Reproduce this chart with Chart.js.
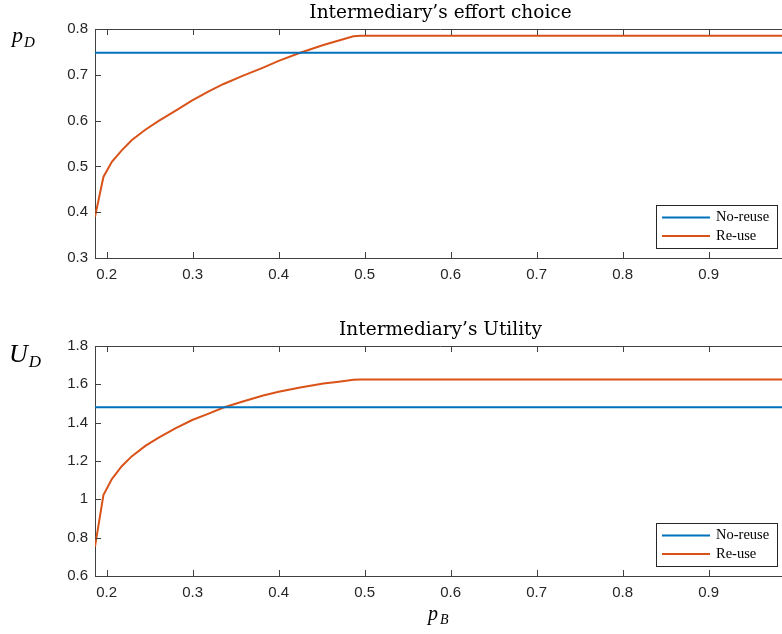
<!DOCTYPE html>
<html>
<head>
<meta charset="utf-8">
<script src="https://cdn.jsdelivr.net/npm/chart.js@4.4.1/dist/chart.umd.min.js"></script>
<style>
  html, body { margin: 0; padding: 0; background: #fff; overflow: hidden; }
  #wrap { position: relative; width: 782px; height: 634px; overflow: hidden; }
  canvas { position: absolute; left: 0; }
</style>
</head>
<body>
<div id="wrap">
  <canvas id="chartTop" width="790" height="317" style="top:0"></canvas>
  <canvas id="chartBottom" width="790" height="317" style="top:317px"></canvas>
</div>
<script>
// values
var pB = [0.1864, 0.1962, 0.206, 0.2175, 0.229, 0.2449, 0.2605, 0.2798, 0.2995, 0.3186,
          0.336, 0.3573, 0.382, 0.4, 0.425, 0.452, 0.47, 0.487, 0.495, 0.99];
var effortReuse = [0.39, 0.477, 0.510, 0.535, 0.557, 0.58, 0.5995, 0.621, 0.644, 0.664,
                   0.680, 0.697, 0.7155, 0.7305, 0.748, 0.765, 0.775, 0.784, 0.785, 0.785];
var utilityReuse = [0.753, 1.022, 1.106, 1.173, 1.224, 1.279, 1.322, 1.370, 1.414, 1.447,
                    1.479, 1.509, 1.542, 1.561, 1.584, 1.604, 1.614, 1.624, 1.625, 1.625];
var effortNoReuse = 0.748;
var utilityNoReuse = 1.48;
var seriesNames = ['No-reuse', 'Re-use'];

var blue = '#0072BD', orange = '#D95319';
var axisColor = '#404040', textColor = '#262626';
var tickLen = 6;

function pts(xs, ys) {
  return xs.map(function(x, i) { return { x: x, y: ys[i] }; });
}
function flat(v) {
  return [{ x: pB[0], y: v }, { x: pB[pB.length - 1], y: v }];
}

var extras = {
  id: 'extras',
  afterDraw: function(chart, args, opts) {
    var ctx = chart.ctx, ca = chart.chartArea;
    var xs = chart.scales.x, ys = chart.scales.y;
    ctx.save();

    // top box line + inward ticks (matlab style)
    ctx.strokeStyle = axisColor;
    ctx.lineWidth = 1;
    ctx.beginPath();
    ctx.moveTo(ca.left, ca.top + 0.5);
    ctx.lineTo(ca.right, ca.top + 0.5);
    xs.ticks.forEach(function(t) {
      var px = Math.round(xs.getPixelForValue(t.value)) + 0.5;
      ctx.moveTo(px, ca.bottom);
      ctx.lineTo(px, ca.bottom - tickLen);
      ctx.moveTo(px, ca.top);
      ctx.lineTo(px, ca.top + tickLen);
    });
    ys.ticks.forEach(function(t) {
      var py = Math.round(ys.getPixelForValue(t.value)) + 0.5;
      ctx.moveTo(ca.left, py);
      ctx.lineTo(ca.left + tickLen, py);
    });
    ctx.stroke();

    // title
    ctx.fillStyle = '#000';
    ctx.font = '18.5px "DejaVu Serif"';
    ctx.textAlign = 'center';
    ctx.textBaseline = 'alphabetic';
    ctx.fillText(opts.title, (ca.left + ca.right) / 2, ca.top - 11);

    // y label, horizontal at top left
    ctx.textAlign = 'left';
    ctx.font = 'italic ' + opts.ySize + 'px "Liberation Serif"';
    ctx.fillText(opts.yMain, opts.yX, opts.yBase);
    var w = ctx.measureText(opts.yMain).width;
    ctx.font = 'italic ' + opts.ySubSize + 'px "Liberation Serif"';
    ctx.fillText('D', opts.yX + w + 1, opts.yBase + 5);

    // x label
    if (opts.xLabel) {
      ctx.font = 'italic 20px "Liberation Serif"';
      ctx.fillText('p', 428, ca.bottom + 44);
      ctx.font = 'italic 14px "Liberation Serif"';
      ctx.fillText('B', 440, ca.bottom + 48);
    }

    // legend box in the lower right corner
    var bx = 656, by = ca.bottom - 53, bw = 121, bh = 43;
    ctx.fillStyle = '#fff';
    ctx.fillRect(bx, by, bw, bh);
    ctx.strokeStyle = '#262626';
    ctx.lineWidth = 1;
    ctx.strokeRect(bx + 0.5, by + 0.5, bw, bh);
    ctx.font = '14.5px "Liberation Serif"';
    ctx.textBaseline = 'middle';
    chart.data.datasets.forEach(function(ds, i) {
      var ly = by + 12.5 + i * 18.5;
      ctx.strokeStyle = ds.borderColor;
      ctx.lineWidth = 2;
      ctx.beginPath();
      ctx.moveTo(662, ly);
      ctx.lineTo(710, ly);
      ctx.stroke();
      ctx.fillStyle = '#000';
      ctx.fillText(ds.label, 716, ly);
    });
    ctx.restore();
  }
};

function makeChart(id, reuse, noReuse, ymin, ymax, ystep, xHeight, extraOpts) {
  return new Chart(document.getElementById(id), {
    type: 'scatter',
    data: {
      datasets: [{
        label: seriesNames[0],
        data: flat(noReuse),
        borderColor: blue,
        borderWidth: 2,
        showLine: true,
        pointRadius: 0
      }, {
        label: seriesNames[1],
        data: pts(pB, reuse),
        borderColor: orange,
        borderWidth: 2,
        showLine: true,
        pointRadius: 0
      }]
    },
    options: {
      responsive: false,
      animation: false,
      devicePixelRatio: 1,
      layout: { padding: { left: 0, top: 29, right: 4, bottom: 0 } },
      plugins: {
        legend: { display: false },
        tooltip: { enabled: false },
        extras: extraOpts
      },
      scales: {
        x: {
          type: 'linear',
          min: pB[0],
          max: 0.99,
          grid: { drawOnChartArea: false, drawTicks: false },
          border: { display: true, color: axisColor, width: 1 },
          ticks: {
            stepSize: 0.1,
            includeBounds: false,
            padding: 8,
            color: textColor,
            font: { family: 'Liberation Sans', size: 15 },
            callback: function(v) { return String(Number(v.toFixed(2))); }
          },
          afterFit: function(s) { s.height = xHeight; }
        },
        y: {
          min: ymin,
          max: ymax,
          grid: { drawOnChartArea: false, drawTicks: false },
          border: { display: true, color: axisColor, width: 1 },
          ticks: {
            stepSize: ystep,
            padding: 7,
            color: textColor,
            font: { family: 'Liberation Sans', size: 15 },
            callback: function(v) { return String(Number(v.toFixed(2))); }
          },
          afterFit: function(s) { s.width = 95; }
        }
      }
    },
    plugins: [extras]
  });
}

makeChart('chartTop', effortReuse, effortNoReuse, 0.3, 0.8, 0.1, 59, {
  title: 'Intermediary\u2019s effort choice',
  yMain: 'p', ySize: 22, ySubSize: 15, yX: 12, yBase: 42, xLabel: false
});
makeChart('chartBottom', utilityReuse, utilityNoReuse, 0.6, 1.8, 0.2, 58, {
  title: 'Intermediary\u2019s Utility',
  yMain: 'U', ySize: 26, ySubSize: 17, yX: 9, yBase: 45, xLabel: true
});
</script>
</body>
</html>
